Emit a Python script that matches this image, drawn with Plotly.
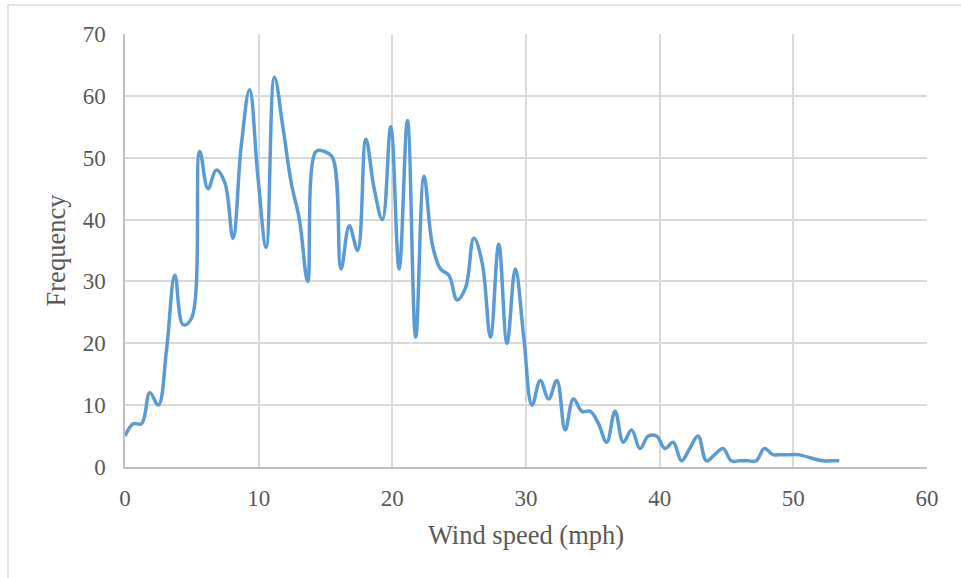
import plotly.graph_objects as go

# Wind speed bins (mph) – 1 km/h steps
speed_mph = [0.00, 0.62, 1.24, 1.86, 2.49, 3.11, 3.73, 4.35, 4.97, 5.59,
             6.21, 6.83, 7.46, 8.08, 8.70, 9.32, 9.94, 10.56, 11.18, 11.81,
             12.43, 13.05, 13.67, 14.29, 14.91, 15.53, 16.16, 16.78, 17.40, 18.02,
             18.64, 19.26, 19.88, 20.51, 21.13, 21.75, 22.37, 22.99, 23.61, 24.23,
             24.85, 25.48, 26.10, 26.72, 27.34, 27.96, 28.58, 29.20, 29.83, 30.45,
             31.07, 31.69, 32.31, 32.93, 33.55, 34.18, 34.80, 35.42, 36.04, 36.66,
             37.28, 37.90, 38.53, 39.15, 39.77, 40.39, 41.01, 41.63, 42.25, 42.87,
             43.50, 44.12, 44.74, 45.36, 45.98, 46.60, 47.22, 47.84, 48.47, 49.09,
             49.71, 50.33, 52.20, 52.82, 53.44]
frequency = [5, 7, 7, 12, 10, 19, 31, 23, 24, 51,
             45, 48, 46, 37, 52, 61, 47, 35.5, 63, 55,
             46, 40, 30, 51, 51, 50, 32, 39, 35, 53,
             45, 40, 55, 32, 56, 21, 47, 36, 32, 31,
             27, 29, 37, 33, 21, 36, 20, 32, 21, 10,
             14, 11, 14, 6, 11, 9, 9, 7, 4, 9,
             4, 6, 3, 5, 5, 3, 4, 1, 3, 5,
             1, 2, 3, 1, 1, 1, 1, 3, 2, 2,
             2, 2, 1, 1, 1]

x_ticks = [0, 10, 20, 30, 40, 50, 60]
y_ticks = [0, 10, 20, 30, 40, 50, 60, 70]

FONT = "Liberation Serif, Times New Roman, serif"

W, H = 961, 578
L, R, T, B = 125, 34, 34, 111
PW, PH = W - L - R, H - T - B

fig = go.Figure()
fig.add_trace(go.Scatter(
    x=speed_mph, y=frequency, mode="lines",
    line=dict(color="#5b9bd5", width=3.5, shape="spline", smoothing=1.1),
    hoverinfo="x+y", showlegend=False,
))

# outer chart border: left edge at x=8px, top edge at y=5px
bx = (8 - L) / PW
by = (PH + T - 5) / PH

fig.update_layout(
    width=W, height=H,
    margin=dict(l=L, r=R, t=T, b=B),
    paper_bgcolor="white", plot_bgcolor="white",
    font=dict(family=FONT, color="#595959"),
    xaxis=dict(
        range=[0, 60], tickvals=x_ticks, ticktext=[str(v) for v in x_ticks],
        showgrid=True, gridcolor="#d9d9d9", gridwidth=1.5,
        showline=True, linecolor="#bfbfbf", linewidth=1.5,
        zeroline=False, ticks="", ticklabelstandoff=10,
        tickfont=dict(family=FONT, size=23, color="#595959"),
        title=dict(text="Wind speed (mph)", standoff=15,
                   font=dict(family=FONT, size=26.5, color="#595959")),
    ),
    yaxis=dict(
        range=[0, 70], tickvals=y_ticks, ticktext=[str(v) for v in y_ticks],
        showgrid=True, gridcolor="#d9d9d9", gridwidth=1.5,
        showline=True, linecolor="#bfbfbf", linewidth=1.5,
        zeroline=False, ticks="", ticklabelstandoff=13,
        tickfont=dict(family=FONT, size=23, color="#595959"),
        title=dict(text="Frequency", standoff=9,
                   font=dict(family=FONT, size=26.5, color="#595959")),
    ),
    shapes=[
        dict(type="line", xref="paper", yref="paper",
             x0=bx, x1=1.2, y0=by, y1=by,
             line=dict(color="#d9d9d9", width=1.5)),
        dict(type="line", xref="paper", yref="paper",
             x0=bx, x1=bx, y0=-0.5, y1=by,
             line=dict(color="#d9d9d9", width=1.5)),
    ],
)

fig.write_html(
    "out.html",
    config={"displayModeBar": False},
    post_script="document.body.style.margin='0';document.body.style.overflow='hidden';",
)
